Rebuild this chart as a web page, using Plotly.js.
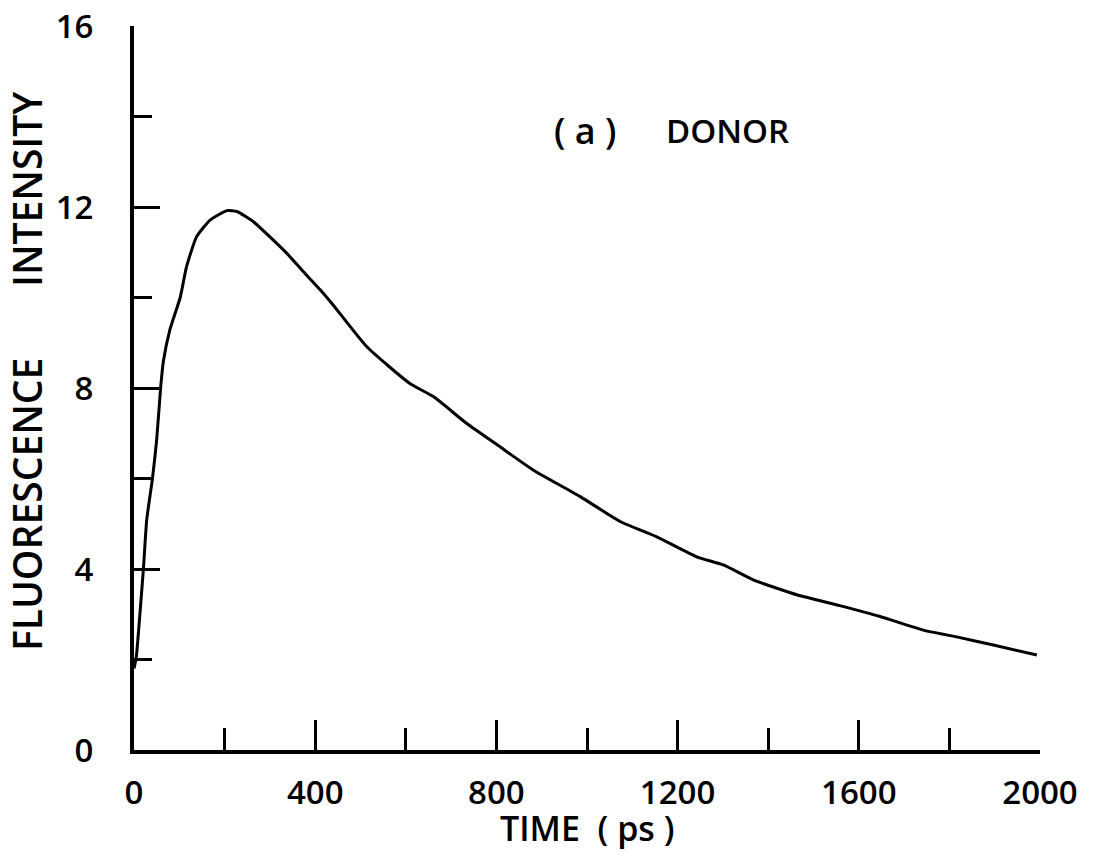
<!DOCTYPE html>
<html>
<head>
<meta charset="utf-8">
<script src="https://cdn.plot.ly/plotly-3.0.1.min.js"></script>
<style>html,body{margin:0;padding:0;background:#fff;}#chart{width:1101px;height:854px;}</style>
</head>
<body>
<div id="chart"></div>
<script>
// Time (ps)
const timePs = [0, 5, 13, 21, 28, 41, 50, 59, 65, 79, 102, 116, 138, 168, 205, 227, 263, 300, 337, 374, 411, 440, 514, 609, 661, 734, 808, 881, 985, 1073, 1154, 1242, 1301, 1367, 1463, 1558, 1647, 1742, 1816, 1897, 1993];
// Donor fluorescence intensity
const donorIntensity = [1.8, 2.05, 3.0, 4.03, 5.08, 6.02, 6.85, 8.03, 8.6, 9.28, 10.0, 10.68, 11.34, 11.71, 11.92, 11.9, 11.68, 11.34, 10.98, 10.57, 10.17, 9.83, 8.91, 8.1, 7.81, 7.22, 6.7, 6.19, 5.6, 5.05, 4.71, 4.27, 4.09, 3.76, 3.43, 3.19, 2.95, 2.65, 2.5, 2.32, 2.1];

const xTickVals = [0, 400, 800, 1200, 1600, 2000];
const xTickText = ["0", "400", "800", "1200", "1600", "2000"];
const yTickVals = [0, 4, 8, 12, 16];
const yTickText = ["0", "4", "8", "12", "16"];

const FONT = "Open Sans, Liberation Sans, Arial, sans-serif";
const TXT = {family: FONT, size: 33, color: "#000", weight: 600};

const trace = {
  x: timePs, y: donorIntensity, type: "scatter", mode: "lines",
  line: {color: "#000", width: 3, shape: "spline", smoothing: 0.5},
  hoverinfo: "skip", showlegend: false
};

const layout = {
  width: 1101, height: 854,
  margin: {l: 134, r: 61, t: 26, b: 104},
  paper_bgcolor: "#fff", plot_bgcolor: "#fff",
  font: {family: FONT, color: "#000", size: 33},
  xaxis: {
    range: [0, 2000], showgrid: false, zeroline: false,
    showline: true, linecolor: "#000", linewidth: 4,
    tickmode: "array", tickvals: xTickVals, ticktext: xTickText,
    ticks: "inside", ticklen: 30, tickwidth: 3, tickcolor: "#000",
    ticklabelstandoff: 10,
    minor: {dtick: 200, tick0: 0, ticks: "inside", ticklen: 22, tickwidth: 3, tickcolor: "#000", showgrid: false},
    tickfont: TXT
  },
  yaxis: {
    range: [0, 16], showgrid: false, zeroline: false,
    showline: true, linecolor: "#000", linewidth: 4,
    tickmode: "array", tickvals: yTickVals, ticktext: yTickText,
    ticks: "inside", ticklen: 26, tickwidth: 3, tickcolor: "#000",
    ticklabelstandoff: 30,
    minor: {dtick: 2, tick0: 0, ticks: "inside", ticklen: 18, tickwidth: 3, tickcolor: "#000", showgrid: false},
    tickfont: TXT
  },
  annotations: [
    {x: 996, y: 13.7, xref: "x", yref: "y", text: "( a )", showarrow: false,
     font: {family: FONT, size: 36, color: "#000", weight: 600}},
    {x: 1311, y: 13.7, xref: "x", yref: "y", text: "DONOR", showarrow: false, font: TXT},
    {x: 0.5, y: -0.0, xref: "paper", yref: "paper", xanchor: "center", yanchor: "top", yshift: -53,
     text: "TIME&nbsp;&nbsp;(&nbsp;ps&nbsp;)", showarrow: false, font: {family: FONT, size: 34, color: "#000", weight: 600}},
    {x: -0.118, y: 0.5235, xref: "paper", yref: "paper", xanchor: "center", yanchor: "middle", textangle: -90,
     text: "FLUORESCENCE&nbsp;&nbsp;&nbsp;&nbsp;&nbsp;&nbsp;&nbsp;INTENSITY", showarrow: false,
     font: {family: FONT, size: 39, color: "#000", weight: 600}}
  ]
};

Plotly.newPlot("chart", [trace], layout, {displayModeBar: false, staticPlot: true});
</script>
</body>
</html>
